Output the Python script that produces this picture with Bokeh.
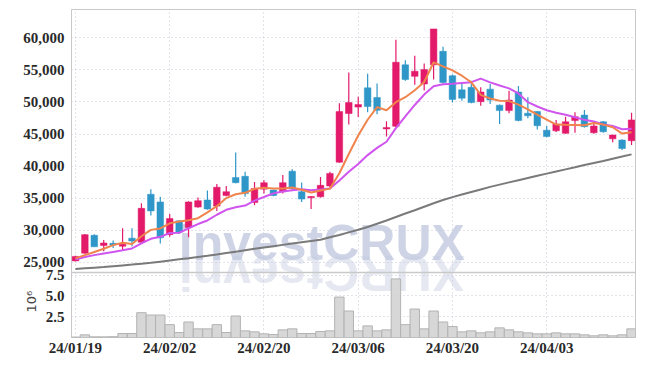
import math
from bokeh.plotting import figure
from bokeh.models import (ColumnDataSource, FixedTicker, Label, Range1d,
                          NumeralTickFormatter, Span, Title)
from bokeh.embed import file_html
from bokeh.resources import INLINE

# ---------------- data ----------------
dates = ["24/01/19", "24/01/22", "24/01/23", "24/01/24", "24/01/25", "24/01/26",
         "24/01/29", "24/01/30", "24/01/31", "24/02/01", "24/02/02", "24/02/05",
         "24/02/06", "24/02/07", "24/02/08", "24/02/13", "24/02/14", "24/02/15",
         "24/02/16", "24/02/19", "24/02/20", "24/02/21", "24/02/22", "24/02/23",
         "24/02/26", "24/02/27", "24/02/28", "24/02/29", "24/03/04", "24/03/05",
         "24/03/06", "24/03/07", "24/03/08", "24/03/11", "24/03/12", "24/03/13",
         "24/03/14", "24/03/15", "24/03/18", "24/03/19", "24/03/20", "24/03/21",
         "24/03/22", "24/03/25", "24/03/26", "24/03/27", "24/03/28", "24/03/29",
         "24/04/01", "24/04/02", "24/04/03", "24/04/04", "24/04/05", "24/04/08",
         "24/04/09", "24/04/11", "24/04/12", "24/04/15", "24/04/16", "24/04/17"]

opens = [25200, 26400, 29200, 27600, 27950, 27500, 28750, 28100, 35600, 34400,
         29300, 31450, 30400, 33600, 34700, 33750, 35400, 38200, 38400, 34300,
         36400, 36250, 36000, 39200, 36000, 35050, 35200, 36900, 40600, 48200,
         49200, 52200, 50700, 45800, 46200, 55800, 54000, 52800, 55800, 57900,
         54100, 51900, 52300, 50050, 52000, 49500, 48650, 51550, 48250, 48500,
         45600, 45500, 45100, 47100, 47950, 45200, 46900, 44250, 44050, 43950]
highs = [26000, 29400, 29350, 28450, 28400, 30300, 30300, 34200, 36400, 35200,
         32500, 31500, 34500, 35100, 36200, 37200, 36900, 42100, 39100, 37500,
         37800, 36300, 38600, 39500, 37450, 35300, 38300, 39100, 49800, 54600,
         50800, 54400, 52900, 47000, 59700, 56500, 57200, 56000, 61400, 58600,
         54300, 52900, 53300, 52300, 52800, 49600, 51750, 52500, 50750, 48600,
         46250, 47200, 47700, 48400, 48750, 46900, 47050, 44900, 44200, 48300]
lows = [25150, 26300, 27400, 26700, 27200, 26800, 27500, 28000, 32300, 27900,
        28950, 29400, 28900, 33500, 33200, 33000, 35300, 37300, 35200, 33900,
        35700, 35300, 35700, 36300, 34400, 33300, 35100, 36700, 40500, 46500,
        47650, 48400, 48100, 44600, 46100, 53300, 52700, 51800, 53500, 52900,
        49900, 50200, 49800, 49400, 49700, 46550, 48250, 47000, 47450, 45700,
        44500, 45300, 45050, 45200, 46000, 45050, 45200, 43700, 42500, 43300]
closes = [25900, 29300, 27400, 28000, 27700, 27800, 28300, 33400, 33000, 28800,
          31800, 29700, 34400, 34600, 33300, 36700, 36000, 37400, 35700, 36500,
          37400, 35400, 37400, 36500, 34850, 35250, 37000, 38850, 48500, 49900,
          49600, 49300, 48700, 46000, 56200, 53500, 54800, 55050, 61400, 53050,
          50400, 50600, 49900, 51550, 50300, 48650, 50300, 47100, 47850, 46300,
          44600, 46550, 46900, 47700, 46150, 46250, 45350, 44850, 42750, 47200]
volume_millions = [0.05, 0.32, 0.08, 0.08, 0.10, 0.48, 0.48, 2.99, 2.71, 2.71,
                   1.55, 0.60, 1.87, 1.04, 1.04, 1.55, 0.60, 2.59, 0.80, 0.68,
                   0.44, 0.36, 0.92, 1.04, 0.48, 0.48, 0.72, 0.80, 4.87, 3.19,
                   0.80, 1.40, 0.80, 0.92, 7.06, 1.55, 3.43, 1.04, 3.19, 1.87,
                   1.32, 0.68, 0.80, 0.56, 0.68, 1.16, 0.92, 0.68, 0.56, 0.44,
                   0.44, 0.56, 0.44, 0.44, 0.32, 0.20, 0.32, 0.20, 0.32, 1.04]
ma5 = [25600, 26100, 26600, 27100, 27660, 28040, 27840, 29040, 30040, 30260,
       31060, 31340, 31540, 31860, 32760, 33740, 35000, 35600, 35820, 36460,
       36600, 36480, 36480, 36640, 36310, 35870, 36190, 36480, 38880, 41890,
       44770, 47230, 49200, 48700, 49960, 50740, 51840, 53110, 56190, 55560,
       54940, 54100, 53070, 51100, 50550, 50200, 50140, 49580, 48840, 48040,
       47230, 46480, 46440, 46410, 46380, 46710, 46470, 46060, 45070, 45280]
ma10 = [25400, 25800, 26100, 26350, 26600, 26850, 27150, 27950, 28650, 28960,
        29550, 29590, 30290, 30950, 31510, 32400, 33170, 33570, 33840, 34610,
        35170, 35740, 36040, 36230, 36385, 36235, 36335, 36480, 37760, 39100,
        40320, 41710, 42840, 43790, 45925, 47755, 49535, 51155, 52445, 52760,
        52840, 52970, 53090, 53645, 53055, 52570, 52120, 51325, 49970, 49295,
        48715, 48310, 48010, 47625, 47210, 46970, 46475, 46250, 45740, 45830]
ma_long = [23950, 24050, 24150, 24250, 24380, 24500, 24620, 24750, 24900, 25080,
           25260, 25440, 25620, 25820, 26000, 26200, 26420, 26640, 26860, 27080,
           27300, 27500, 27700, 27900, 28100, 28300, 28500, 28900, 29250, 29650,
           30050, 30500, 31000, 31500, 32050, 32600, 33100, 33650, 34200, 34700,
           35150, 35550, 35950, 36350, 36750, 37100, 37450, 37800, 38150, 38500,
           38820, 39150, 39480, 39800, 40150, 40480, 40800, 41150, 41480, 41820]
price_ticks = [25000, 30000, 35000, 40000, 45000, 50000, 55000, 60000]
volume_ticks = [2.5, 5.0, 7.5]
volume_tick_labels = ["2.5", "5.0", "7.5"]
volume_unit = "10\u2076"
date_tick_step = 10
watermark = "investCRUX"

# ---------------- panel geometry ----------------
PRICE_PX, VOL_PX = 263, 65          # heights of the two stacked panels
price_lo, price_hi = 23390, 64430   # visible price band
vol_hi = 7.83                       # visible volume band (millions)
price_bottom = price_lo - (price_hi - price_lo) * VOL_PX / PRICE_PX
vol_top = vol_hi * (PRICE_PX + VOL_PX) / VOL_PX
vol_to_price = lambda v: price_bottom + v / vol_hi * (price_lo - price_bottom)
vol_tick_pos = [int(round(vol_to_price(v))) for v in volume_ticks]

# ---------------- styling ----------------
UP = "#e3196a"
DOWN = "#2f96c8"
GRID = "#c4c7d6"
FONT = "Liberation Sans Narrow"
TXT = "#2a2a2a"
WM = "#c5cce1"

n = len(dates)
idx = list(range(n))
tick_idx = list(range(0, n, date_tick_step))
colors = [UP if c >= o else DOWN for o, c in zip(opens, closes)]
src = ColumnDataSource(dict(x=idx, o=opens, h=highs, l=lows, c=closes,
                            top=[max(a, b) for a, b in zip(opens, closes)],
                            bot=[min(a, b) for a, b in zip(opens, closes)],
                            col=colors, vol=volume_millions,
                            ma5=ma5, ma10=ma10, mal=ma_long))

p = figure(width=645, height=366, x_range=Range1d(-0.42, n - 0.58),
           y_range=Range1d(price_bottom, price_hi),
           output_backend="svg", toolbar_location=None,
           min_border_left=71, min_border_right=10, min_border_top=9,
           min_border_bottom=29)
p.extra_y_ranges = {"vol": Range1d(0, vol_top)}

p.background_fill_color = "white"
p.border_fill_color = "white"
p.outline_line_color = "#c9c9c9"
p.outline_line_width = 1

p.xgrid.ticker = FixedTicker(ticks=tick_idx)
p.xgrid.grid_line_color = GRID
p.xgrid.grid_line_dash = "1 3"
p.ygrid.grid_line_color = GRID
p.ygrid.grid_line_dash = "1 3"

p.yaxis.ticker = FixedTicker(ticks=price_ticks + vol_tick_pos)
p.yaxis.formatter = NumeralTickFormatter(format="0,0")
p.yaxis.major_label_overrides = {pos: lab for pos, lab in zip(vol_tick_pos, volume_tick_labels)}
p.xaxis.ticker = FixedTicker(ticks=tick_idx)
p.xaxis.major_label_overrides = {i: dates[i] for i in tick_idx}
for ax in (p.xaxis, p.yaxis):
    ax.axis_line_color = None
    ax.major_tick_line_color = None
    ax.minor_tick_line_color = None
    ax.major_tick_out = 0
    ax.major_tick_in = 0
    ax.minor_tick_out = 0
    ax.major_label_text_font = FONT
    ax.major_label_text_font_style = "bold"
    ax.major_label_text_font_size = "15px"
    ax.major_label_text_color = TXT
p.yaxis.major_label_standoff = 7
p.xaxis.major_label_standoff = 2

# volume unit, placed beside the volume panel
p.add_layout(Title(text=volume_unit, align="left", offset=25, standoff=-36,
                   vertical_align="bottom", text_font="DejaVu Sans",
                   text_font_style="normal", text_font_size="13px",
                   text_color="#444444"), "left")

# divider between price and volume panels
p.add_layout(Span(location=price_lo, dimension="width", line_color="#c9c9c9",
                  line_width=1.5))

# watermark and its reflection
p.add_layout(Label(x=10.96, y=23700, text=watermark, text_font="Liberation Sans",
                   text_font_style="bold", text_font_size="50px",
                   text_color=WM, text_alpha=0.85, level="underlay"))
p.add_layout(Label(x=10.96, y=price_lo, text=watermark[::-1], angle=math.pi,
                   text_align="right", text_baseline="alphabetic",
                   text_font="Liberation Sans", text_font_style="bold",
                   text_font_size="50px", text_color=WM, text_alpha=0.45,
                   level="underlay"))

# volume bars
p.vbar(x="x", top="vol", bottom=0, width=1.0, fill_color="#d3d3d3",
       fill_alpha=0.9, line_color="#b3b3b3", line_width=1, source=src,
       y_range_name="vol")

# candles
p.segment(x0="x", y0="l", x1="x", y1="h", color="col", line_width=1.2, source=src)
p.vbar(x="x", top="top", bottom="bot", width=0.7, fill_color="col",
       line_color="col", line_width=0.5, source=src)
# moving averages
p.line("x", "mal", source=src, color="#7a7a7a", line_width=2)
p.line("x", "ma10", source=src, color="#cf55ee", line_width=2)
p.line("x", "ma5", source=src, color="#f0844c", line_width=2)

open("out.html", "w").write(file_html(p, INLINE))
